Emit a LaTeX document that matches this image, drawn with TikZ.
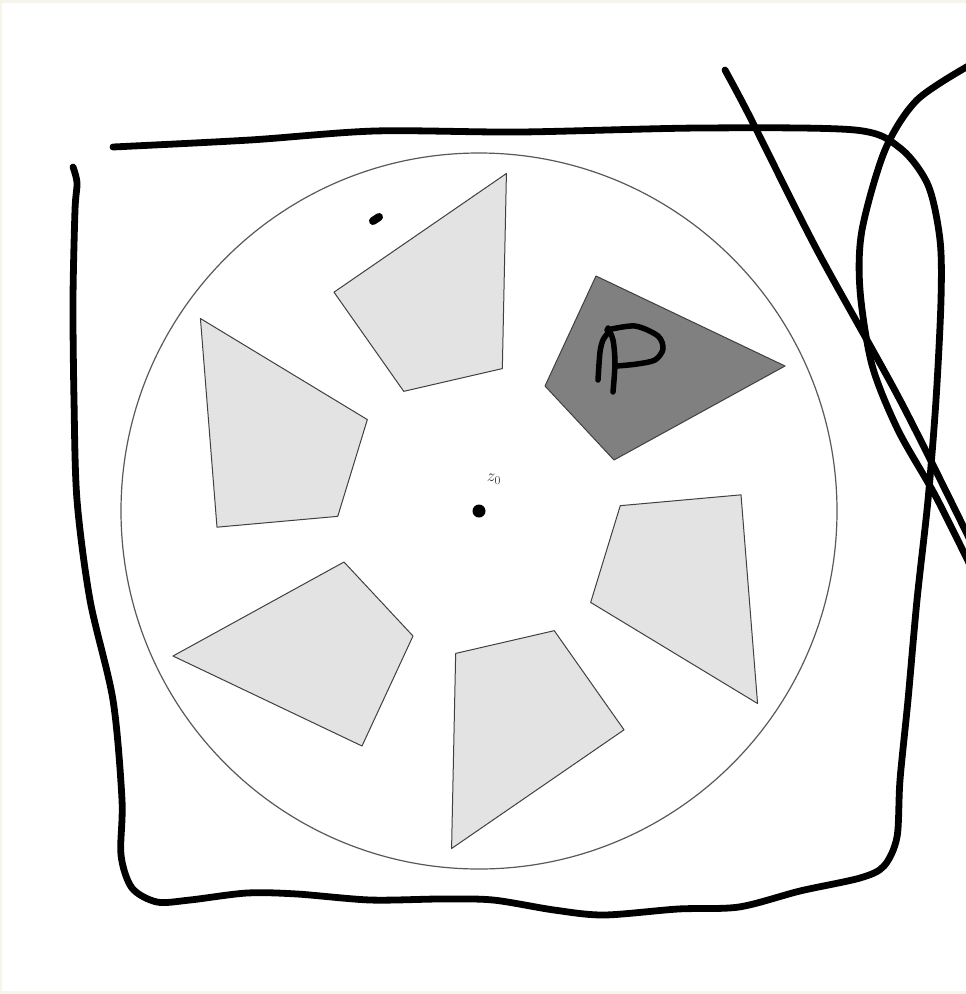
\documentclass[tikz,border=0pt]{standalone}
\usetikzlibrary{positioning}
\definecolor{paper}{HTML}{F7F5E9}
\definecolor{piecegray}{HTML}{E3E3E3}
\definecolor{darkpiece}{HTML}{808080}

\begin{document}
\begin{tikzpicture}[
    x=1pt, y=-1pt,
    piece/.style={draw=black!75, line width=1pt, fill=piecegray, line join=round},
    chosen/.style={piece, fill=darkpiece},
    rim/.style={draw=black!65, line width=1.2pt},
    dot/.style={circle, fill=black, inner sep=0pt, minimum size=13pt},
    ink/.style={line width=6.8pt, line cap=round, line join=round},
    pen/.style={line width=5.5pt, line cap=round, line join=round}
]
\useasboundingbox (0,0) rectangle (966,994);
\fill[paper] (0,0) rectangle (966,994);
\fill[white] (2,3) rectangle (966,991);

\node[dot] (z0) at (479,511) {};
\node[font=\fontsize{18}{20}\selectfont, text=black!80] (zlab) at (494,479) {$z_0$};
\draw[rim] (z0.center) circle[radius=358pt];

% the six pieces around z0
\foreach \k in {1,...,5}
  \draw[piece, rotate around={60*\k:(z0)}] (596,276) -- (785,366) -- (614,460) -- (545,386) -- cycle;
\draw[chosen] (596,276) -- (785,366) -- (614,460) -- (545,386) -- cycle;

% hand drawn frame
\draw[ink] plot[smooth, tension=0.5] coordinates {(113,147) (250,140) (375,131) (520,132) (700,128) (855,130) (900,148) (928,185) (940,240) (941,300) (936,400) (928,500) (917,600) (908,700) (900,780) (897,837) (884,866) (860,878) (800,891) (739,907) (678,909) (604,915) (554,910) (493,900) (440,899) (370,900) (297,894) (247,893) (190,900) (157,902) (132,888) (121,855) (122,800) (113,700) (90,600) (77,500) (74,400) (73,300) (75,210) (77,183) (73,167)};

% strokes on the right
\draw[ink] plot[smooth] coordinates {(725,70) (750,117) (817,250) (900,400) (970,540)};
\draw[ink] plot[smooth] coordinates {(970,65) (917,100) (885,150) (862,230) (860,290) (872,365) (898,430) (935,495) (970,565)};

% stray mark
\draw[ink, line width=8pt] (373,221) -- (379,217);

% the letter P
\draw[pen] plot[smooth] coordinates {(598,380) (600,352) (603,340) (608,333)};
\draw[pen] plot[smooth] coordinates {(613,392) (615,363) (613,340) (608,328)};
\draw[pen] plot[smooth] coordinates {(607,330) (635,326) (658,336) (663,349) (655,360) (637,364) (617,366)};
\end{tikzpicture}
\end{document}
